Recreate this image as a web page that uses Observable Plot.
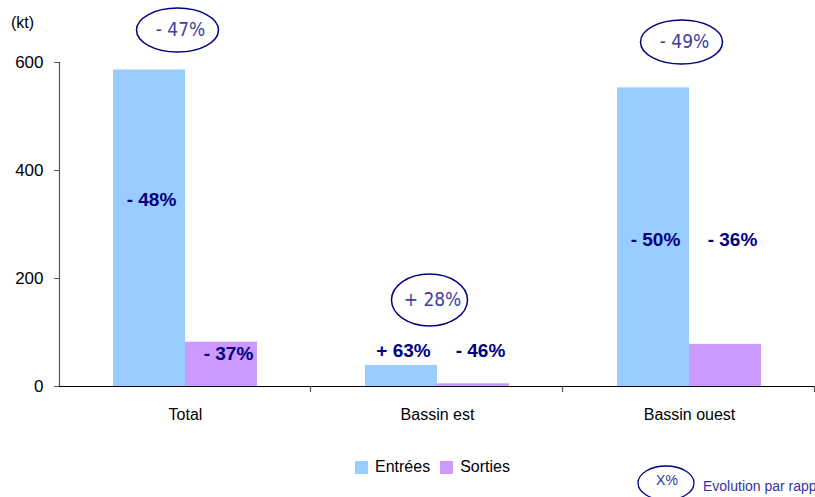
<!DOCTYPE html>
<html>
<head>
<meta charset="utf-8">
<script src="https://cdn.jsdelivr.net/npm/d3@7"></script>
<script src="https://cdn.jsdelivr.net/npm/@observablehq/plot@0.6"></script>
<style>
  html, body { margin: 0; padding: 0; background: #fff; overflow: hidden; }
  #wrap { position: relative; width: 815px; height: 497px; font-family: "Liberation Sans", Arial, sans-serif; }
  #unit { position: absolute; left: 11px; top: 14px; font-size: 16px; color: #000; }
  #legend { position: absolute; left: 355px; top: 458px; font-size: 16px; color: #000; display: flex; align-items: center; }
  #legend .sw { display: inline-block; width: 13px; height: 13px; margin-right: 7px; }
  #legend .it { display: flex; align-items: center; margin-right: 10px; }
  #key { position: absolute; left: 636px; top: 464px; }
  #keytext { position: absolute; left: 703px; top: 478px; font-size: 14px; color: #3333a0; white-space: nowrap; }
</style>
</head>
<body>
<div id="wrap">
  <div id="chart"></div>
  <div id="unit">(kt)</div>
  <div id="legend"></div>
  <svg id="key" width="64" height="40">
    <ellipse cx="30" cy="19" rx="28" ry="17" fill="none" stroke="#000080" stroke-width="1.3"></ellipse>
    <text x="31" y="21" text-anchor="middle" font-size="14" font-family="Liberation Sans, Arial, sans-serif" fill="#333399">X%</text>
  </svg>
  <div id="keytext">Evolution par rapport à 2008</div>
</div>
<script>
// ---- data ----
const categories = ["Total", "Bassin est", "Bassin ouest"];
const series = ["Entrées", "Sorties"];
const entrees = [586, 39, 553];
const sorties = [82, 5, 78];
const evolEntrees = ["- 48%", "+ 63%", "- 50%"];
const evolSorties = ["- 37%", "- 46%", "- 36%"];
const evolTotal = ["- 47%", "+ 28%", "- 49%"];
const yTicks = [0, 200, 400, 600];
const colors = ["#99CCFF", "#CC99FF"];

// annotation anchors (in data units)
const entreesLabelY = [345, 65, 271];
const sortiesLabelY = [61, 65, 271];
const totalLabelY = [660, 160, 638];

const bars = categories.flatMap((c, i) => [
  {cat: c, series: series[0], value: entrees[i]},
  {cat: c, series: series[1], value: sorties[i]}
]);
const labE = categories.map((c, i) => ({cat: c, series: series[0], y: entreesLabelY[i], text: evolEntrees[i]}));
const labS = categories.map((c, i) => ({cat: c, series: series[1], y: sortiesLabelY[i], text: evolSorties[i]}));
const labT = categories.map((c, i) => ({cat: c, y: totalLabelY[i], text: evolTotal[i]}));

function ellipseSymbol(rx, ry) {
  const k = 0.5523;
  return {
    draw(ctx) {
      ctx.moveTo(rx, 0);
      ctx.bezierCurveTo(rx, ry * k, rx * k, ry, 0, ry);
      ctx.bezierCurveTo(-rx * k, ry, -rx, ry * k, -rx, 0);
      ctx.bezierCurveTo(-rx, -ry * k, -rx * k, -ry, 0, -ry);
      ctx.bezierCurveTo(rx * k, -ry, rx, -ry * k, rx, 0);
      ctx.closePath();
    }
  };
}

const ML = 59;
const plot = Plot.plot({
  width: 815,
  height: 440,
  marginLeft: ML,
  marginRight: 0,
  marginTop: 62,
  marginBottom: 54,
  style: {fontFamily: "Liberation Sans, Arial, sans-serif", background: "white", overflow: "visible"},
  fx: {domain: categories, padding: 0, label: null, axis: null},
  x: {domain: series, paddingInner: 0, paddingOuter: 0.75, axis: null},
  y: {domain: [0, 600], axis: null},
  color: {domain: series, range: colors},
  marks: [
    Plot.barY(bars, {fx: "cat", x: "series", y: "value", fill: "series"}),
    Plot.ruleY([0], {stroke: "#000", strokeWidth: 1.2}),
    Plot.axisY({ticks: yTicks, tickSize: 5, tickPadding: 11, fontSize: 17, stroke: "#555", label: null, tickFormat: d => String(d)}),
    Plot.axisFx({anchor: "bottom", tickSize: 0, tickPadding: 22, fontSize: 16, label: null}),
    Plot.text(labE, {fx: "cat", x: "series", y: "y", text: "text", dx: 2, fontSize: 19, fontWeight: "bold", fill: "#000080"}),
    Plot.text(labS, {fx: "cat", x: "series", y: "y", text: "text", dx: 7, fontSize: 19, fontWeight: "bold", fill: "#000080"}),
    Plot.dot(labT.filter((d, i) => i !== 1), {fx: "cat", y: "y", r: 10, dx: -8, symbol: ellipseSymbol(41, 22), stroke: "#000080", strokeWidth: 1.5, fill: "none"}),
    Plot.dot(labT.filter((d, i) => i === 1), {fx: "cat", y: "y", r: 10, dx: -8, symbol: ellipseSymbol(38, 26), stroke: "#000080", strokeWidth: 1.5, fill: "none"}),
    Plot.text(labT, {fx: "cat", y: "y", text: "text", dx: -5, fontSize: 19, fontFamily: "Liberation Sans Narrow, Arial Narrow, DejaVu Sans Condensed, Liberation Sans, sans-serif", fill: "#4040A0"})
  ]
});
document.getElementById("chart").appendChild(plot);

// axis line and category boundary ticks via the plot's own scales
const yS = plot.scale("y");
const fxS = plot.scale("fx");
const svg = d3.select(plot);
svg.append("line")
  .attr("x1", ML + 0.5).attr("x2", ML + 0.5)
  .attr("y1", yS.apply(0)).attr("y2", yS.apply(600))
  .attr("stroke", "#555").attr("stroke-width", 1.2);
categories.forEach(c => {
  const xb = fxS.apply(c) + fxS.bandwidth;
  svg.append("line")
    .attr("x1", xb - 0.5).attr("x2", xb - 0.5)
    .attr("y1", yS.apply(0)).attr("y2", yS.apply(0) + 6)
    .attr("stroke", "#555").attr("stroke-width", 1.2);
});

// legend
const leg = d3.select("#legend");
series.forEach((s, i) => {
  const it = leg.append("div").attr("class", "it");
  it.append("span").attr("class", "sw").style("background", colors[i]);
  it.append("span").text(s);
});
</script>
</body>
</html>
